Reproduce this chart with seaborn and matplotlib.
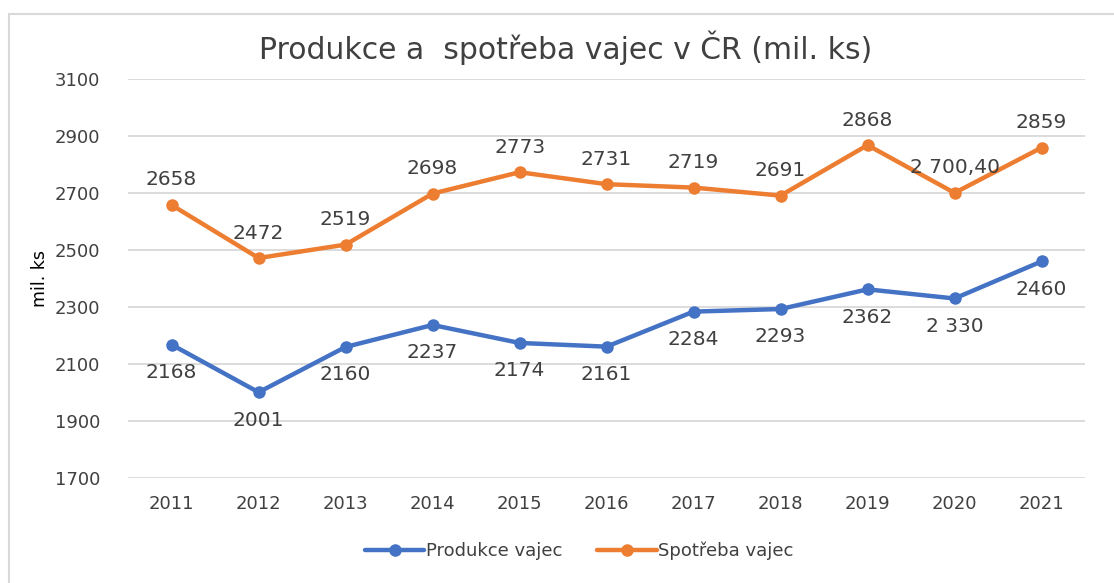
import matplotlib
matplotlib.use("Agg")
import matplotlib.pyplot as plt
import seaborn as sns
import pandas as pd
from matplotlib.lines import Line2D

# data
years = ["2011", "2012", "2013", "2014", "2015", "2016", "2017", "2018", "2019", "2020", "2021"]
produkce = [2168, 2001, 2160, 2237, 2174, 2161, 2284, 2293, 2362, 2330, 2460]
spotreba = [2658, 2472, 2519, 2698, 2773, 2731, 2719, 2691, 2868, 2700.40, 2859]
produkce_labels = ["2168", "2001", "2160", "2237", "2174", "2161", "2284", "2293", "2362", "2 330", "2460"]
spotreba_labels = ["2658", "2472", "2519", "2698", "2773", "2731", "2719", "2691", "2868", "2 700,40", "2859"]
y_ticks = [1700, 1900, 2100, 2300, 2500, 2700, 2900, 3100]

sns.set_style("white")
plt.rcParams["font.family"] = ["DejaVu Sans"]

blue = "#4472C4"
orange = "#ED7D31"
txt = "#404040"

df = pd.DataFrame({"rok": years * 2,
                   "hodnota": produkce + spotreba,
                   "serie": ["Produkce vajec"] * len(years) + ["Spotřeba vajec"] * len(years)})

fig = plt.figure(figsize=(11.14, 5.83), dpi=100)
ax = fig.add_axes([0.115, 0.18, 0.859, 0.6845])

sns.lineplot(data=df, x="rok", y="hodnota", hue="serie", palette=[blue, orange],
             marker="o", markersize=9, markeredgewidth=0, linewidth=3.2,
             legend=False, ax=ax, sort=False)

ax.set_xlim(-0.5, 10.5)
ax.set_ylim(1700, 3100)
ax.set_yticks(y_ticks)
ax.yaxis.grid(True, color="#d9d9d9", linewidth=1.3)
ax.set_axisbelow(True)
for s in ax.spines.values():
    s.set_visible(False)
ax.tick_params(axis="both", length=0, labelsize=13, colors=txt, pad=12)
ax.tick_params(axis="y", pad=20)
ax.set_xlabel("")
ax.set_ylabel("mil. ks", fontsize=12.5, color="black", labelpad=4)

# data labels
for i, (v, l) in enumerate(zip(produkce, produkce_labels)):
    ax.annotate(l, (i, v), xytext=(0, -20), textcoords="offset points",
                ha="center", va="center", fontsize=14.5, color=txt)
for i, (v, l) in enumerate(zip(spotreba, spotreba_labels)):
    ax.annotate(l, (i, v), xytext=(0, 18), textcoords="offset points",
                ha="center", va="center", fontsize=14.5, color=txt)

fig.text(0.508, 0.918, "Produkce a  spotřeba vajec v ČR (mil. ks)", ha="center", va="center",
         fontsize=21.5, color=txt)

handles = [Line2D([0], [0], color=blue, lw=3.2, marker="o", ms=8),
           Line2D([0], [0], color=orange, lw=3.2, marker="o", ms=8)]
fig.legend(handles, ["Produkce vajec", "Spotřeba vajec"], loc="center", bbox_to_anchor=(0.52, 0.055),
           ncol=2, frameon=False, fontsize=13, labelcolor=txt, handlelength=3.3,
           handletextpad=0.1, columnspacing=1.9)

# chart frame (left and top edges visible)
fig.add_artist(Line2D([0.0085, 0.0085], [0, 0.976], color="#d9d9d9", lw=1.5, transform=fig.transFigure))
fig.add_artist(Line2D([0.0085, 1.0], [0.976, 0.976], color="#d9d9d9", lw=1.5, transform=fig.transFigure))

fig.savefig("out.png", dpi=100, facecolor="white")
